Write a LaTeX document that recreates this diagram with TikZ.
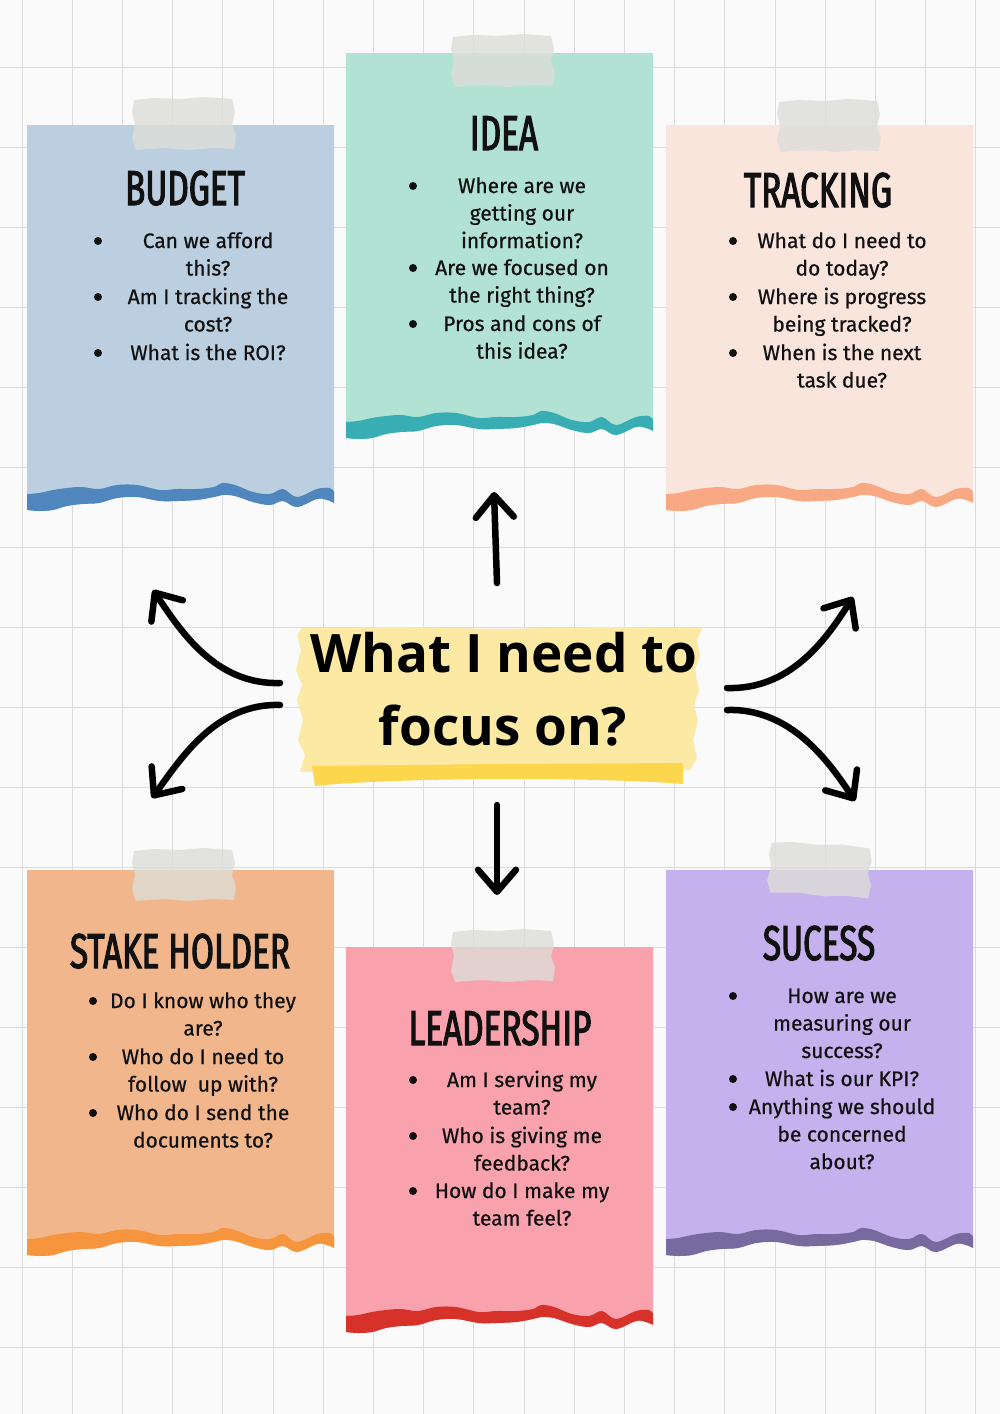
\documentclass[tikz,border=0pt]{standalone}
\usepackage{fontspec}
\setmainfont{Fira Sans}[FakeBold=0.6]
\newfontfamily\titlefont[FakeStretch=0.68,FakeBold=2.2]{Fira Sans}
\newfontfamily\centerfont{Open Sans}
\usetikzlibrary{arrows.meta}
\definecolor{bg}{HTML}{FAFAFA}
\definecolor{gridc}{HTML}{DCDCDC}
\definecolor{ink}{HTML}{111111}
\definecolor{budgetF}{HTML}{BCCFE0}\definecolor{budgetS}{HTML}{4E86BD}
\definecolor{ideaF}{HTML}{B2E2D4}\definecolor{ideaS}{HTML}{38ADB3}
\definecolor{trackF}{HTML}{FAE5DD}\definecolor{trackS}{HTML}{F9A884}
\definecolor{stakeF}{HTML}{F2B68C}\definecolor{stakeS}{HTML}{F7953F}
\definecolor{leadF}{HTML}{F9A2AE}\definecolor{leadS}{HTML}{D63229}
\definecolor{sucF}{HTML}{C4B1ED}\definecolor{sucS}{HTML}{776A9F}
\definecolor{yelF}{HTML}{FBE9A4}\definecolor{yelS}{HTML}{FCD64C}
\definecolor{tapeC}{HTML}{DDDDD8}

% #1 left x, #2 top y, #3 base y of torn edge, #4 fill, #5 strip colour
\newcommand\papercard[5]{%
\begin{scope}[xshift=#1pt,yshift=-#3pt]
\fill[#4] (0,{#2-#3}) -- (307,{#2-#3}) -- (307,13) -- plot[smooth,tension=.6] coordinates {(307,13) (300,10) (290,9) (270,17) (256,11) (243,15) (226,12) (208,6) (195,5) (187,7) (170,10) (150,11) (133,11) (110,7) (90,8) (72,13) (55,14) (40,16) (26,20) (12,21) (0,20)} -- cycle;
\fill[#5] plot[smooth,tension=.6] coordinates {(0,4) (12,3) (26,0) (40,-2) (55,-3) (72,-1) (90,-5) (110,-5) (133,0) (150,-1) (170,-1) (187,-3) (195,-7) (208,-5) (226,2) (243,4) (256,-1) (270,7) (290,-1) (303,-2) (307,2)} -- plot[smooth,tension=.6] coordinates {(307,13) (300,10) (290,9) (270,17) (256,11) (243,15) (226,12) (208,6) (195,5) (187,7) (170,10) (150,11) (133,11) (110,7) (90,8) (72,13) (55,14) (40,16) (26,20) (12,21) (0,20)} -- cycle;
\end{scope}}

% #1 centre x, #2 centre y, #3 rotation
\newcommand\tapepiece[3]{%
\begin{scope}[xshift=#1pt,yshift=-#2pt,rotate=#3]
\fill[tapeC,opacity=.8] (-50,-24) -- (-30,-26) -- (-5,-25) -- (20,-27) -- (48,-25) -- (51,-12) -- (48,0) -- (52,12) -- (50,25) -- (30,24) -- (5,26) -- (-20,24) -- (-48,26) -- (-52,14) -- (-49,0) -- (-52,-12) -- cycle;
\end{scope}}

% #1 name, #2 bullet x, #3 text centre x, #4 first line middle y, #5 lines
\newcommand\qitem[5]{%
\fill[ink] (#2,#4) circle (4);
\foreach \ln [count=\k] in {#5} {\node[body] (#1-\k) at (#3,{#4+7+(\k-1)*27.5}) {\ln};}
}

\begin{document}
\begin{tikzpicture}[x=1pt,y=-1pt,
  gridline/.style={draw=gridc,line width=0.9pt},
  body/.style={font=\fontsize{21}{25}\selectfont,inner sep=0pt,anchor=base,text=ink},
  cardtitle/.style={font=\titlefont\fontsize{49}{50}\selectfont,inner sep=0pt,anchor=base,text=ink},
  focustext/.style={font=\centerfont\bfseries\fontsize{53}{60}\selectfont,inner sep=0pt,anchor=base,text=black},
  arr/.style={draw=black,line width=6.5pt,line cap=round,-{Straight Barb[length=22pt,width=38pt,line width=6.5pt,round]}}]
\useasboundingbox (0,0) rectangle (1000,1414);
\fill[bg] (0,0) rectangle (1000,1414);
\foreach \i in {0,...,19} \draw[gridline] ({22+50.2*\i},0) -- ({22+50.2*\i},1414);
\foreach \j in {1,...,17} \draw[gridline] (0,{-13+80*\j}) -- (1000,{-13+80*\j});

% cards
\papercard{27}{125}{490}{budgetF}{budgetS}
\papercard{346}{53}{418}{ideaF}{ideaS}
\papercard{666}{125}{490}{trackF}{trackS}
\papercard{27}{870}{1235}{stakeF}{stakeS}
\papercard{346}{947}{1312}{leadF}{leadS}
\papercard{666}{870}{1235}{sucF}{sucS}

% tapes
\tapepiece{184}{124}{0}
\tapepiece{503}{61}{0}
\tapepiece{829}{126}{0}
\tapepiece{184}{875}{0}
\tapepiece{503}{956}{0}
\tapepiece{820}{870}{-4}

% titles
\node[cardtitle] (tBudget) at (185,205) {BUDGET};
\node[cardtitle] (tIdea) at (504,150) {IDEA};
\node[cardtitle] (tTrack) at (818,207) {TRACKING};
\node[cardtitle] (tStake) at (180,968) {STAKE HOLDER};
\node[cardtitle] (tLead) at (500,1045) {LEADERSHIP};
\node[cardtitle] (tSuc) at (819,960) {SUCESS};

% items
\qitem{bu1}{98}{208}{241}{Can we afford,this?}
\qitem{bu2}{98}{208}{297}{Am I tracking the,cost?}
\qitem{bu3}{98}{208}{353}{What is the ROI?}

\qitem{id1}{413}{522}{186}{Where are we,getting our,information?}
\qitem{id2}{413}{522}{268}{Are we focused on,the right thing?}
\qitem{id3}{413}{522}{324}{Pros and cons of,this idea?}

\qitem{tr1}{733}{842}{241}{What do I need to,do today?}
\qitem{tr2}{733}{842}{297}{Where is progress,being tracked?}
\qitem{tr3}{733}{842}{353}{When is the next,task due?}

\qitem{st1}{93}{203}{1001}{Do I know who they,are?}
\qitem{st2}{93}{203}{1057}{Who do I need to,follow~ up with?}
\qitem{st3}{93}{203}{1113}{Who do I send the,documents to?}

\qitem{le1}{413}{522}{1080}{Am I serving my,team?}
\qitem{le2}{413}{522}{1136}{Who is giving me,feedback?}
\qitem{le3}{413}{522}{1191}{How do I make my,team feel?}

\qitem{su1}{733}{842}{996}{How are we,measuring our,success?}
\qitem{su2}{733}{842}{1079}{What is our KPI?}
\qitem{su3}{733}{842}{1107}{Anything we should,be concerned,about?}

% centre torn paper
\fill[yelF] (302,628) -- (400,627) -- (500,629) -- (600,627) -- (702,628) -- (697,640) -- (700,655) -- (695,670) -- (699,690) -- (694,705) -- (698,720) -- (693,740) -- (697,758) -- (690,770) -- (500,771) -- (300,772) -- (305,755) -- (298,740) -- (303,720) -- (297,700) -- (302,685) -- (296,670) -- (301,650) -- (297,635) -- cycle;
\fill[yelS] (312,766) -- (500,764) -- (683,763) -- (683,784) .. controls (600,777) and (400,777) .. (315,786) -- cycle;
\node[focustext] (focus1) at (504,672) {What I need to};
\node[focustext] (focus2) at (503,745) {focus on?};

% arrows
\coordinate (upS) at (497,583); \coordinate (upE) at (494,492);
\coordinate (dnS) at (497,805); \coordinate (dnE) at (497,895);
\coordinate (ulS) at (280,683); \coordinate (ulE) at (153,590);
\coordinate (dlS) at (280,705); \coordinate (dlE) at (152,798);
\coordinate (urS) at (727,688); \coordinate (urE) at (853,597);
\coordinate (drS) at (727,710); \coordinate (drE) at (855,801);
\draw[arr] (upS) -- (upE);
\draw[arr] (dnS) -- (dnE);
\draw[arr] (ulS) .. controls (215,685) and (180,630) .. (ulE);
\draw[arr] (dlS) .. controls (215,703) and (180,760) .. (dlE);
\draw[arr] (urS) .. controls (790,690) and (826,640) .. (urE);
\draw[arr] (drS) .. controls (790,708) and (828,760) .. (drE);
\end{tikzpicture}
\end{document}
